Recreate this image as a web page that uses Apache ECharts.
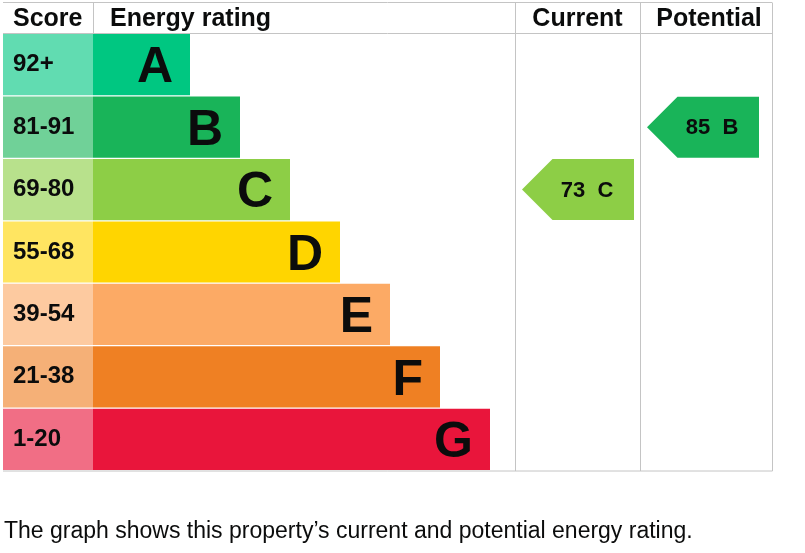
<!DOCTYPE html>
<html>
<head>
<meta charset="utf-8">
<script src="https://cdn.jsdelivr.net/npm/echarts@6/dist/echarts.min.js"></script>
<style>
html,body{margin:0;padding:0;background:#fff;}
#chart{width:805px;height:553px;}
</style>
</head>
<body>
<div id="chart"></div>
<script>
// ---- data ----
const bands = ['A', 'B', 'C', 'D', 'E', 'F', 'G'];
const scoreRanges = ['92+', '81-91', '69-80', '55-68', '39-54', '21-38', '1-20'];
// length of each rating bar beyond the score column (px-equivalent units)
const barLengths = [97, 147, 197, 247, 297, 347, 397];
const headers = ['Score', 'Energy rating', 'Current', 'Potential'];
const currentRating = { score: 73, band: 'C' };
const potentialRating = { score: 85, band: 'B' };
const footerText = 'The graph shows this property\u2019s current and potential energy rating.';

// ---- styles / layout ----
const bandColors = ['#00c781', '#19b459', '#8dce46', '#ffd500', '#fcaa65', '#ef8023', '#e9153b'];
function lighten(hex, a) {
  const n = parseInt(hex.slice(1), 16);
  const r = (n >> 16) & 255, g = (n >> 8) & 255, b = n & 255;
  const f = c => Math.round(255 - (255 - c) * a);
  return 'rgb(' + f(r) + ',' + f(g) + ',' + f(b) + ')';
}
const scoreColors = bandColors.map(c => lighten(c, 0.62));
// column boundaries on x axis
const colScoreEnd = 90, colRatingEnd = 512, colCurrentEnd = 637, colPotentialEnd = 769;
const FONT = '"Liberation Sans", Arial, sans-serif';
const TXT = '#0b0c0c';
const LINE = '#c4c4c4';

const chart = echarts.init(document.getElementById('chart'), null, { renderer: 'canvas' });

const arrowData = [
  [colRatingEnd, bands.indexOf(currentRating.band), currentRating.score, currentRating.band],
  [colCurrentEnd, bands.indexOf(potentialRating.band), potentialRating.score, potentialRating.band]
];

const option = {
  animation: false,
  backgroundColor: '#fff',
  grid: { left: 3, right: 33, top: 33.5, bottom: 82.5 },
  xAxis: { type: 'value', min: 0, max: colPotentialEnd, show: false },
  yAxis: { type: 'category', data: bands, inverse: true, show: false },
  series: [
    {
      type: 'bar', stack: 'row', barCategoryGap: '2%',
      data: bands.map((b, i) => ({ value: colScoreEnd, itemStyle: { color: scoreColors[i] } })),
      label: {
        show: true, position: 'insideLeft', distance: 10, offset: [0, 0],
        formatter: p => scoreRanges[p.dataIndex],
        fontFamily: FONT, fontWeight: 'bold', fontSize: 24, color: TXT
      }
    },
    {
      type: 'bar', stack: 'row', barCategoryGap: '2%',
      data: barLengths.map((v, i) => ({ value: v, itemStyle: { color: bandColors[i] } })),
      label: {
        show: true, position: 'insideRight', distance: 17, offset: [0, 4],
        formatter: p => bands[p.dataIndex],
        fontFamily: FONT, fontWeight: 'bold', fontSize: 50, color: TXT
      }
    },
    {
      type: 'custom',
      data: arrowData,
      renderItem: function (params, api) {
        const colStart = api.value(0);
        const idx = api.value(1);
        const p = api.coord([colStart + 7, idx]);
        const pr = api.coord([colStart + 119, idx]);
        const h = api.size([0, 1])[1] - 1.4;
        const x0 = p[0], cy = p[1], x1 = pr[0];
        const tip = h / 2;
        const color = bandColors[idx];
        return {
          type: 'group',
          children: [
            {
              type: 'polygon',
              shape: { points: [[x0, cy], [x0 + tip, cy - h / 2], [x1, cy - h / 2], [x1, cy + h / 2], [x0 + tip, cy + h / 2]] },
              style: { fill: color }
            },
            {
              type: 'text',
              style: {
                text: api.value(2) + '  ' + arrowData[params.dataIndex][3],
                x: x0 + 65, y: cy + 1, align: 'center', verticalAlign: 'middle',
                font: 'bold 22px ' + FONT, fill: TXT
              }
            }
          ]
        };
      }
    }
  ]
};
chart.setOption(option);

// table frame & headers placed from axis scale
const px = v => chart.convertToPixel({ gridIndex: 0 }, [v, 0])[0];
const xs = [0, colScoreEnd, colRatingEnd, colCurrentEnd, colPotentialEnd].map(px);
const yTop = 2.5, yHead = 33.5, yBottom = 471;
const lineStyle = { stroke: LINE, lineWidth: 1 };
const g = [];
g.push({ type: 'line', shape: { x1: xs[0], y1: yTop, x2: xs[4], y2: yTop }, style: lineStyle });
g.push({ type: 'line', shape: { x1: xs[0], y1: yHead, x2: xs[4], y2: yHead }, style: lineStyle });
g.push({ type: 'line', shape: { x1: xs[0], y1: yBottom, x2: xs[4] + 0.5, y2: yBottom }, style: lineStyle });
g.push({ type: 'line', shape: { x1: Math.round(xs[1]) + 0.5, y1: yTop, x2: Math.round(xs[1]) + 0.5, y2: yHead }, style: lineStyle });
[2, 3, 4].forEach(i => {
  const x = Math.round(xs[i]) + 0.5;
  g.push({ type: 'line', shape: { x1: x, y1: yTop, x2: x, y2: yBottom }, style: lineStyle });
});
const hy = 19.5;
const HF = 'bold 25px ' + FONT;
g.push({ type: 'text', x: xs[0] + 10, y: hy, style: { text: headers[0], font: HF, fill: TXT, verticalAlign: 'middle', align: 'left' } });
g.push({ type: 'text', x: xs[1] + 17, y: hy, style: { text: headers[1], font: HF, fill: TXT, verticalAlign: 'middle', align: 'left' } });
g.push({ type: 'text', x: (xs[2] + xs[3]) / 2, y: hy, style: { text: headers[2], font: HF, fill: TXT, verticalAlign: 'middle', align: 'center' } });
g.push({ type: 'text', x: (xs[3] + xs[4]) / 2 + 3, y: hy, style: { text: headers[3], font: HF, fill: TXT, verticalAlign: 'middle', align: 'center' } });
g.push({ type: 'text', x: 4, y: 532, style: { text: footerText, font: '23px ' + FONT, fill: TXT, verticalAlign: 'middle', align: 'left' } });
chart.setOption({ graphic: g });
</script>
</body>
</html>
